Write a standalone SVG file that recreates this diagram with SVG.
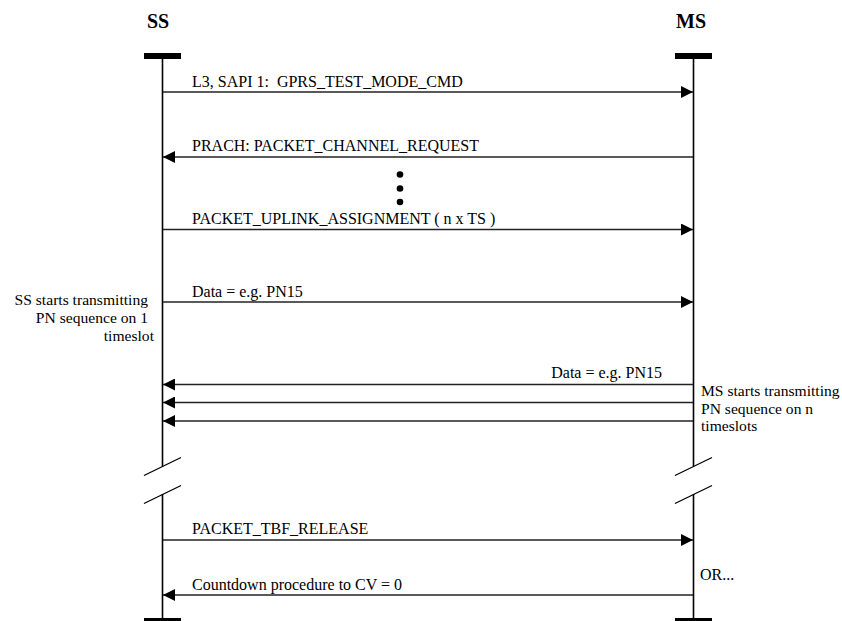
<svg xmlns="http://www.w3.org/2000/svg" width="842" height="621" viewBox="0 0 842 621">
<style>
text{font-family:"Liberation Serif","Times New Roman",serif;font-size:16px;fill:#000;white-space:pre}
.hdr{font-size:20px;font-weight:bold}
.note{font-size:15.6px}
.life{stroke:#000;stroke-width:1.6;fill:none}
.bar{fill:#000}
.msg{stroke:#222;stroke-width:1.3;fill:none}
.brk{stroke:#000;stroke-width:1.3}
</style>
<defs>
<marker id="ah" viewBox="0 0 12 12" refX="12" refY="6" markerWidth="12" markerHeight="12" markerUnits="userSpaceOnUse" orient="auto">
<path d="M0,0 L12,6 L0,12 Z" fill="#000"/>
</marker>
</defs>
<rect width="842" height="621" fill="#fff"/>
<g id="SS">
<text class="hdr" x="158" y="28" text-anchor="middle">SS</text>
<rect class="bar" x="144" y="53" width="37" height="6"/>
<line class="life" x1="162.5" y1="56" x2="162.5" y2="466"/>
<line class="life" x1="162.5" y1="494" x2="162.5" y2="620"/>
<line class="brk" x1="144" y1="475.5" x2="181" y2="457.5"/>
<line class="brk" x1="144" y1="503.5" x2="181" y2="485.5"/>
<rect class="bar" x="144" y="618" width="37" height="6"/>
<text class="note" x="148" y="305" text-anchor="end">SS starts transmitting</text>
<text class="note" x="148" y="323" text-anchor="end">PN sequence on 1</text>
<text class="note" x="154" y="341" text-anchor="end">timeslot</text>
</g>
<g id="MS">
<text class="hdr" x="691" y="28" text-anchor="middle">MS</text>
<rect class="bar" x="675" y="53" width="37" height="6"/>
<line class="life" x1="693.5" y1="56" x2="693.5" y2="466"/>
<line class="life" x1="693.5" y1="494" x2="693.5" y2="620"/>
<line class="brk" x1="675" y1="475.5" x2="712" y2="457.5"/>
<line class="brk" x1="675" y1="503.5" x2="712" y2="485.5"/>
<rect class="bar" x="675" y="618" width="37" height="6"/>
<text class="note" x="701" y="396">MS starts transmitting</text>
<text class="note" x="701" y="413.5">PN sequence on n</text>
<text class="note" x="701" y="431">timeslots</text>
<text x="700" y="580">OR...</text>
</g>
<g id="connectors">
<line class="msg" x1="163" y1="92" x2="693" y2="92" marker-end="url(#ah)"/>
<text x="192" y="87" xml:space="preserve">L3, SAPI 1:  GPRS_TEST_MODE_CMD</text>
<line class="msg" x1="693" y1="157" x2="163" y2="157" marker-end="url(#ah)"/>
<text x="192" y="151">PRACH: PACKET_CHANNEL_REQUEST</text>
<circle cx="400" cy="174.5" r="3.3"/>
<circle cx="400" cy="188.5" r="3.3"/>
<circle cx="400" cy="202" r="3.3"/>
<line class="msg" x1="163" y1="229.5" x2="693" y2="229.5" marker-end="url(#ah)"/>
<text x="192" y="224">PACKET_UPLINK_ASSIGNMENT ( n x TS )</text>
<line class="msg" x1="163" y1="302" x2="693" y2="302" marker-end="url(#ah)"/>
<text x="192" y="297">Data = e.g. PN15</text>
<line class="msg" x1="693" y1="384.5" x2="163" y2="384.5" marker-end="url(#ah)"/>
<text x="662" y="378" text-anchor="end">Data = e.g. PN15</text>
<line class="msg" x1="693" y1="402.5" x2="163" y2="402.5" marker-end="url(#ah)"/>
<line class="msg" x1="693" y1="421" x2="163" y2="421" marker-end="url(#ah)"/>
<line class="msg" x1="163" y1="540" x2="693" y2="540" marker-end="url(#ah)"/>
<text x="192" y="534">PACKET_TBF_RELEASE</text>
<line class="msg" x1="693" y1="595" x2="163" y2="595" marker-end="url(#ah)"/>
<text x="192" y="590">Countdown procedure to CV = 0</text>
</g>
</svg>
